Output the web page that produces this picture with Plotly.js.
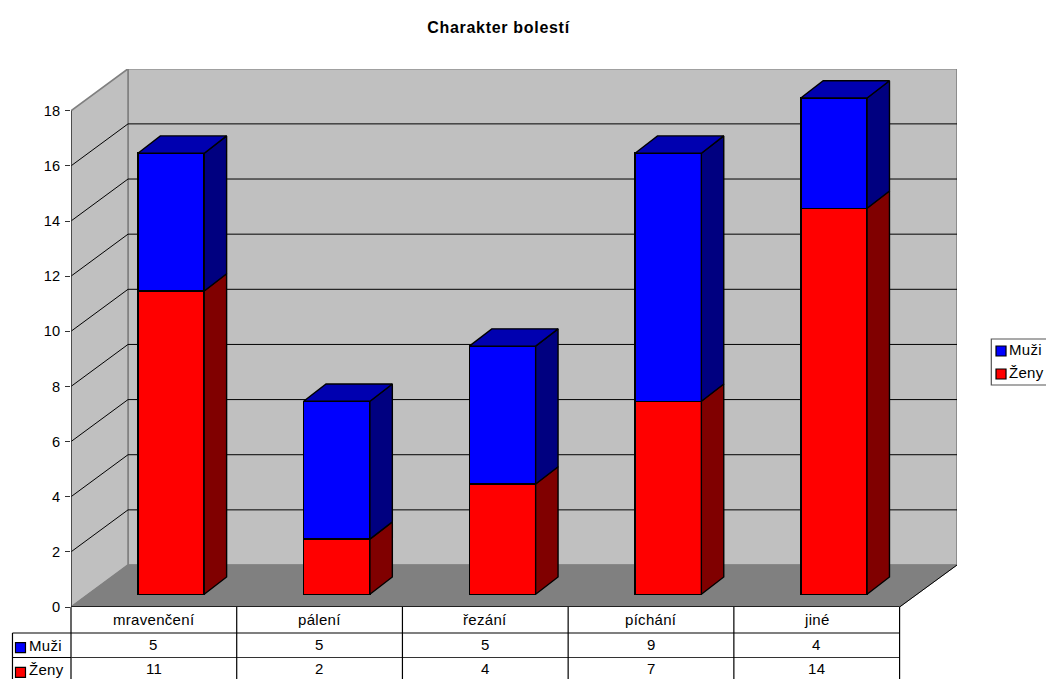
<!DOCTYPE html>
<html>
<head>
<meta charset="utf-8">
<script src="https://cdn.plot.ly/plotly-3.0.1.min.js"></script>
<style>
html,body{margin:0;padding:0;background:#fff;overflow:hidden}
.annotation-text{letter-spacing:.3px}
.gtitle{letter-spacing:.7px}
</style>
</head>
<body>
<div id="chart" style="width:1046px;height:679px"></div>
<script>
// Chart values
const categories = ["mravenčení", "pálení", "řezání", "píchání", "jiné"];
const muzi = [5, 5, 5, 9, 4];
const zeny = [11, 2, 4, 7, 14];
const seriesNames = ["Muži", "Ženy"];
const yTicks = [0, 2, 4, 6, 8, 10, 12, 14, 16, 18];
const titleText = "Charakter bolestí";

// Page geometry of the pseudo-3D box, in pixels
const W = 1046, H = 679;
const plotL = 71, plotR = 956.7, plotT = 69, plotB = 607;
const catPx = 165.66, unitPx = 27.57;
const wallDx = 57 / catPx, wallDy = 42 / unitPx;      // depth of the room
const barDx = 22.4 / catPx, barDy = 17.3 / unitPx;    // depth of a bar
const liftDx = 17.2 / catPx, liftDy = 12.7 / unitPx;  // bars stand inside the floor
const barW = 0.4;
const FONT = "Liberation Sans, Arial, sans-serif";
const labelSize = 15;

const xMin = -0.5, xMax = xMin + (plotR - plotL) / catPx;
const yMax = (plotB - plotT) / unitPx;
const px = v => (v - plotL) / (plotR - plotL);        // page x to paper fraction
const py = v => (plotB - v) / (plotB - plotT);        // page y to paper fraction

const poly = (xs, ys, fill, color, width, axes) => ({
  type: "scatter", mode: "lines", x: xs, y: ys, fill: "toself", fillcolor: fill,
  line: {color: color, width: width}, hoverinfo: "skip", showlegend: false,
  cliponaxis: false, xaxis: axes ? "x2" : "x", yaxis: axes ? "y2" : "y"
});
const seg = (xs, ys, color, width) => ({
  type: "scatter", mode: "lines", x: xs, y: ys, line: {color: color, width: width},
  hoverinfo: "skip", showlegend: false, cliponaxis: false
});

const xRight = xMin + 5;
const top18 = 18;
const traces = [];

// Room: back wall, side wall, floor
traces.push(poly([xMin + wallDx, xMax, xMax, xMin + wallDx, xMin + wallDx],
                 [wallDy, wallDy, top18 + wallDy, top18 + wallDy, wallDy], "#c0c0c0", "#808080", 1.6));
traces.push(poly([xMin, xMin + wallDx, xMin + wallDx, xMin, xMin],
                 [0, wallDy, top18 + wallDy, top18, 0], "#c0c0c0", "#808080", 1.6));
traces.push(poly([xMin, xRight, xMax, xMin + wallDx, xMin],
                 [0, 0, wallDy, wallDy, 0], "#808080", "#808080", 1));

// Gridlines run along the side wall and across the back wall
yTicks.filter(t => t > 0 && t < 18).forEach(t => {
  traces.push(seg([xMin, xMin + wallDx, xMax], [t, t + wallDy, t + wallDy], "#000000", 1));
});

// Floor edges and the value axis line
traces.push(seg([xRight, xMax], [0, wallDy], "#000000", 1));
traces.push(seg([xMin, xRight], [0, 0], "#000000", 1.4));
traces.push(seg([xMin, xMin], [0, 18], "#333333", 1.4));

// Front faces of the stacked columns
traces.push({type: "bar", name: seriesNames[1], x: categories.map((c, i) => i), y: zeny, width: barW,
  marker: {color: "#ff0000", line: {color: "#000000", width: 1.5}}, xaxis: "x2", yaxis: "y2",
  customdata: categories, hovertemplate: "%{customdata}: %{y}<extra>" + seriesNames[1] + "</extra>"});
traces.push({type: "bar", name: seriesNames[0], x: categories.map((c, i) => i), y: muzi, width: barW,
  marker: {color: "#0000ff", line: {color: "#000000", width: 1.5}}, xaxis: "x2", yaxis: "y2",
  customdata: categories, hovertemplate: "%{customdata}: %{y}<extra>" + seriesNames[0] + "</extra>"});

// Side and top faces follow from the stacked values
categories.forEach((c, i) => {
  const e = i + barW / 2, l = i - barW / 2, z = zeny[i], t = zeny[i] + muzi[i];
  traces.push(poly([e, e + barDx, e + barDx, e, e], [0, barDy, z + barDy, z, 0], "#800000", "#000000", 1.4, true));
  traces.push(poly([e, e + barDx, e + barDx, e, e], [z, z + barDy, t + barDy, t, z], "#000080", "#000000", 1.4, true));
  traces.push(poly([l, e, e + barDx, l + barDx, l], [t, t, t + barDy, t + barDy, t], "#0000b0", "#000000", 1.4, true));
});

// Data table under the chart, legend box on the right
const shapes = [], annotations = [];
const tableLine = (x0, y0, x1, y1, color) => shapes.push({type: "line", xref: "paper", yref: "paper",
  x0: px(x0), y0: py(y0), x1: px(x1), y1: py(y1), line: {color: color || "#000000", width: 1.2}});
const swatch = (x, y, color) => shapes.push({type: "rect", xref: "paper", yref: "paper",
  x0: px(x), x1: px(x + 10), y0: py(y), y1: py(y + 10), fillcolor: color, line: {color: "#000000", width: 1.2}});
const label = (text, xPage, yPage, anchor) => annotations.push({
  text: text, xref: "paper", yref: "paper", x: px(xPage), y: py(yPage),
  xanchor: anchor, yanchor: "middle", showarrow: false,
  font: {family: FONT, size: labelSize, color: "#000000"}
});

const tableRight = plotL + 5 * catPx, rowA = 633, rowB = 657.5, tableLeft = 12.5;
tableLine(plotL, rowA, tableLeft, rowA);
tableLine(tableLeft, rowA, tableLeft, H);
tableLine(tableLeft, rowB, plotL, rowB);
tableLine(plotL, plotB, plotL, H);
tableLine(plotL, rowA, tableRight, rowA);
tableLine(plotL, rowB, tableRight, rowB, "#333333");
categories.forEach((c, i) => {
  const edge = plotL + (i + 1) * catPx;
  tableLine(edge, plotB, edge, H);
  const mid = plotL + (i + 0.5) * catPx;
  label(c, mid, 619, "center");
  label(String(muzi[i]), mid, 644, "center");
  label(String(zeny[i]), mid, 668.5, "center");
});
swatch(15.5, 642.7, "#0000ff");
swatch(15.5, 667.3, "#ff0000");
label(seriesNames[0], 27, 645, "left");
label(seriesNames[1], 27, 669, "left");

// Legend, its right edge on the page border
shapes.push({type: "rect", xref: "paper", yref: "paper", x0: px(991), x1: px(1047), y0: py(339), y1: py(385),
  fillcolor: "#ffffff", line: {color: "#555555", width: 1.2}});
swatch(995.7, 346, "#0000ff");
swatch(995.7, 369, "#ff0000");
label(seriesNames[0], 1007, 349.5, "left");
label(seriesNames[1], 1007, 372, "left");

const layout = {
  width: W, height: H,
  margin: {l: plotL, r: W - plotR, t: plotT, b: H - plotB, pad: 0},
  paper_bgcolor: "#ffffff", plot_bgcolor: "#ffffff",
  barmode: "stack", showlegend: false,
  title: {text: titleText, xref: "container", yref: "container", x: 498.5 / W, y: 1 - 27 / H,
          xanchor: "center", yanchor: "middle",
          font: {family: FONT, size: 16, weight: 700, color: "#000000"}},
  xaxis: {range: [xMin, xMax], visible: false, fixedrange: true},
  yaxis: {range: [0, yMax], tickmode: "array", tickvals: yTicks, ticks: "outside", ticklen: 5,
          tickcolor: "#333333", tickwidth: 1.2, showgrid: false, zeroline: false, showline: false,
          ticklabelstandoff: 2,
          tickfont: {family: FONT, size: 14.6, color: "#000000"}, fixedrange: true},
  // The columns stand a little way into the floor: same scales, shifted by that depth
  xaxis2: {range: [xMin - liftDx, xMax - liftDx], overlaying: "x", visible: false, fixedrange: true},
  yaxis2: {range: [-liftDy, yMax - liftDy], overlaying: "y", visible: false, fixedrange: true},
  shapes: shapes, annotations: annotations
};

Plotly.newPlot("chart", traces, layout, {displayModeBar: false, responsive: false});
</script>
</body>
</html>
